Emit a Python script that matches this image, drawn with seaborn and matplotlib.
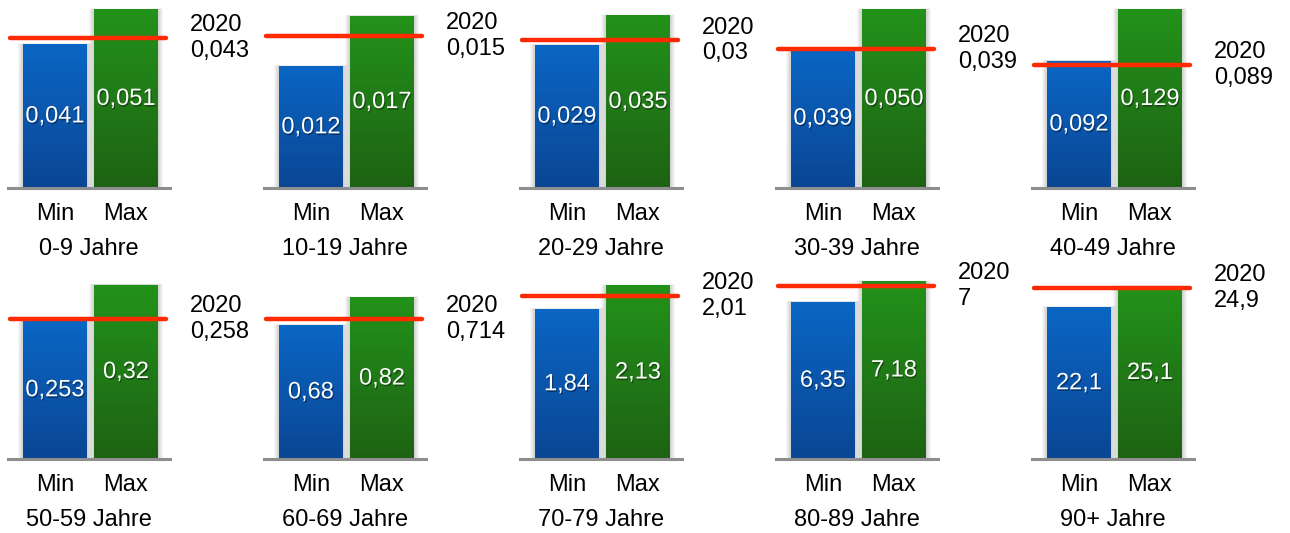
import numpy as np
import pandas as pd
import matplotlib
matplotlib.use("Agg")
import matplotlib.pyplot as plt
import matplotlib.patheffects as pe
from matplotlib.colors import LinearSegmentedColormap
import seaborn as sns

# ---------------- data ----------------
age_groups = ["0-9 Jahre", "10-19 Jahre", "20-29 Jahre", "30-39 Jahre", "40-49 Jahre",
              "50-59 Jahre", "60-69 Jahre", "70-79 Jahre", "80-89 Jahre", "90+ Jahre"]
categories = ["Min", "Max"]
min_vals = [0.041, 0.012, 0.029, 0.039, 0.092, 0.253, 0.68, 1.84, 6.35, 22.1]
max_vals = [0.051, 0.017, 0.035, 0.050, 0.129, 0.32, 0.82, 2.13, 7.18, 25.1]
min_labels = ["0,041", "0,012", "0,029", "0,039", "0,092", "0,253", "0,68", "1,84", "6,35", "22,1"]
max_labels = ["0,051", "0,017", "0,035", "0,050", "0,129", "0,32", "0,82", "2,13", "7,18", "25,1"]
ref_2020 = [0.043, 0.015, 0.03, 0.039, 0.089, 0.258, 0.714, 2.01, 7, 24.9]
ref_label = "2020"
# per-panel value-axis maximum (each small chart has its own scale)
axis_max = [0.0524, 0.0181, 0.0372, 0.0514, 0.1326, 0.3366, 0.932, 2.253, 7.42, 26.7]

# ---------------- style ----------------
sns.set_style("white")
plt.rcParams["font.family"] = ["Liberation Sans", "DejaVu Sans"]

W, H = 1290, 533
fig = plt.figure(figsize=(W / 100, H / 100), dpi=100)

panel_left = [8, 264, 520, 776, 1032]
row_base = [188, 459]
panel_w, panel_h = 162, 183

blue_cmap = LinearSegmentedColormap.from_list("b", ["#0b4694", "#0a66c4"])
green_cmap = LinearSegmentedColormap.from_list("g", ["#1e6214", "#23921a"])
grad = np.linspace(0, 1, 256).reshape(-1, 1)

for i, grp in enumerate(age_groups):
    r, c = divmod(i, 5)
    left = panel_left[c] / W
    bottom = (H - row_base[r]) / H
    ax = fig.add_axes([left, bottom, panel_w / W, panel_h / H])
    df = pd.DataFrame({"Kategorie": categories, "Wert": [min_vals[i], max_vals[i]]})
    sns.barplot(data=df, x="Kategorie", y="Wert", hue="Kategorie",
                palette=["#0a56b0", "#208018"], width=0.9, legend=False, ax=ax,
                saturation=1, zorder=3)
    ymax = axis_max[i]
    px_y = ymax / panel_h
    px_x = 1 / 71.0
    labels = [min_labels[i], max_labels[i]]
    cmaps = [blue_cmap, green_cmap]
    for j, p in enumerate(ax.patches):
        x0, w, h = p.get_x(), p.get_width(), p.get_height()
        p.set_facecolor("none")
        p.set_edgecolor("none")
        # soft shadow
        for k in range(1, 6):
            ax.add_patch(plt.Rectangle((x0 - k * px_x, 0), w + 2 * k * px_x, h + k * 0.3 * px_y,
                                       facecolor="black", alpha=0.035, edgecolor="none",
                                       zorder=1, clip_on=False))
        ax.imshow(grad, extent=[x0, x0 + w, 0, h], origin="lower", aspect="auto",
                  cmap=cmaps[j], zorder=3)
        ax.text(x0 + w / 2, h / 2, labels[j], color="white", fontsize=17,
                ha="center", va="center", zorder=5,
                path_effects=[pe.withSimplePatchShadow(offset=(0.8, -1.2),
                                                       shadow_rgbFace="black", alpha=0.35)])
    ax.set_xlim(-0.66, 1.62)
    ax.set_ylim(0, ymax)
    ax.set_aspect("auto")
    ax.axhline(ref_2020[i], xmin=0.012, xmax=0.975, color="#ff2a00", lw=3.2,
               zorder=6, clip_on=False)
    ref_txt = ref_label + "\n" + f"{ref_2020[i]:g}".replace(".", ",")
    ax.annotate(ref_txt, xy=(1, ref_2020[i]), xycoords=("axes fraction", "data"),
                xytext=(14.5, 0), textcoords="offset points", ha="left", va="center",
                fontsize=17, color="black", linespacing=1.22, annotation_clip=False)
    for s in ["top", "right", "left"]:
        ax.spines[s].set_visible(False)
    ax.spines["bottom"].set_color("#8e8e8e")
    ax.spines["bottom"].set_linewidth(2.2)
    ax.spines["bottom"].set_zorder(4)
    ax.set_yticks([])
    ax.set_ylabel("")
    ax.tick_params(axis="x", length=0, pad=10.5, labelsize=17, colors="black")
    ax.set_xlabel(grp, fontsize=17, labelpad=10, color="black")
    ax.patch.set_alpha(0)

fig.savefig("out.png", dpi=100)
